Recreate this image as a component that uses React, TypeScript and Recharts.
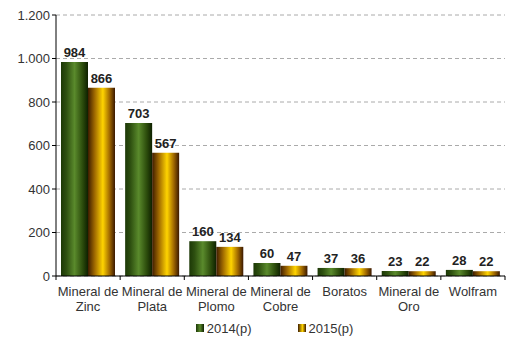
import { Bar, BarChart, CartesianGrid, LabelList, Legend, XAxis, YAxis } from "recharts";

const categories = ["Mineral de|Zinc", "Mineral de|Plata", "Mineral de|Plomo", "Mineral de|Cobre", "Boratos", "Mineral de|Oro", "Wolfram"];
const values2014 = [984, 703, 160, 60, 37, 23, 28];
const values2015 = [866, 567, 134, 47, 36, 22, 22];
const yTicks = [0, 200, 400, 600, 800, 1000, 1200];

const data = categories.map((name, i) => ({ name, y2014: values2014[i], y2015: values2015[i] }));

const W = 506;
const H = 339;
const margin = { top: 15, right: 1, left: 0, bottom: 0 };
const yAxisWidth = 56;
const band = (W - margin.left - margin.right - yAxisWidth) / categories.length;

const font = "'Liberation Sans', Arial, sans-serif";

function formatThousands(v: number): string {
  return v.toString().replace(/\B(?=(\d{3})+(?!\d))/g, ".");
}

function CategoryTick(props: any) {
  const { x, y, payload, index } = props;
  const lines = String(payload.value).split("|");
  const isLast = index === categories.length - 1;
  return (
    <g>
      <line x1={x - band / 2} x2={x - band / 2} y1={y - 8} y2={y - 4} stroke="#000" />
      {isLast && <line x1={x + band / 2} x2={x + band / 2} y1={y - 8} y2={y - 4} stroke="#000" />}
      <text x={x} y={y + 12} textAnchor="middle" fontSize={13} fill="#333" fontFamily={font}>
        {lines.map((l, i) => (
          <tspan key={i} x={x} dy={i === 0 ? 0 : 15}>
            {l}
          </tspan>
        ))}
      </text>
    </g>
  );
}

function LegendContent() {
  const items = [
    { label: "2014(p)", fill: "url(#legGreen)" },
    { label: "2015(p)", fill: "url(#legGold)" },
  ];
  return (
    <div style={{ display: "flex", justifyContent: "center", gap: 46, paddingLeft: 44, fontFamily: font, fontSize: 13, color: "#333", height: 16 }}>
      {items.map((it) => (
        <div key={it.label} style={{ display: "flex", alignItems: "center", gap: 3 }}>
          <svg width={8} height={8}>
            <rect width={8} height={8} fill={it.fill} />
          </svg>
          <span>{it.label}</span>
        </div>
      ))}
    </div>
  );
}

export default function App() {
  return (
    <div style={{ position: "absolute", left: 0, top: 0, background: "#fff" }}>
      <svg width={0} height={0} style={{ position: "absolute" }}>
        <defs>
          <linearGradient id="legGreen" x1="0" y1="0" x2="1" y2="0">
            <stop offset="0%" stopColor="#1c3806" />
            <stop offset="50%" stopColor="#5a8a2c" />
            <stop offset="100%" stopColor="#0e2000" />
          </linearGradient>
          <linearGradient id="legGold" x1="0" y1="0" x2="1" y2="0">
            <stop offset="0%" stopColor="#3e1c00" />
            <stop offset="55%" stopColor="#ffd400" />
            <stop offset="100%" stopColor="#3a1800" />
          </linearGradient>
        </defs>
      </svg>
      <BarChart width={W} height={H} data={data} margin={margin} barCategoryGap={5} barGap={0}>
        <defs>
          <linearGradient id="gGreen" x1="0" y1="0" x2="1" y2="0">
            <stop offset="0%" stopColor="#1c3806" />
            <stop offset="20%" stopColor="#2e5010" />
            <stop offset="50%" stopColor="#5a8a2c" />
            <stop offset="80%" stopColor="#2c4c0c" />
            <stop offset="100%" stopColor="#0e2000" />
          </linearGradient>
          <linearGradient id="gGold" x1="0" y1="0" x2="1" y2="0">
            <stop offset="0%" stopColor="#3e1c00" />
            <stop offset="25%" stopColor="#a06a00" />
            <stop offset="55%" stopColor="#ffd400" />
            <stop offset="80%" stopColor="#a06800" />
            <stop offset="100%" stopColor="#3a1800" />
          </linearGradient>
        </defs>
        <CartesianGrid vertical={false} stroke="#aaa" strokeDasharray="4 3" />
        <XAxis
          dataKey="name"
          height={47}
          stroke="#000"
          tickLine={false}
          interval={0}
          tick={<CategoryTick />}
        />
        <YAxis
          width={yAxisWidth}
          domain={[0, 1200]}
          ticks={yTicks}
          stroke="#000"
          tickSize={4}
          tickFormatter={formatThousands}
          tick={{ fontSize: 13, fill: "#333", fontFamily: font }}
        />
        <Legend verticalAlign="bottom" height={16} wrapperStyle={{ bottom: 3 }} content={<LegendContent />} />
        <Bar dataKey="y2014" name="2014(p)" fill="url(#gGreen)" isAnimationActive={false}>
          <LabelList dataKey="y2014" position="top" offset={5} style={{ fontSize: 13, fontWeight: "bold", fill: "#222", fontFamily: font }} />
        </Bar>
        <Bar dataKey="y2015" name="2015(p)" fill="url(#gGold)" isAnimationActive={false}>
          <LabelList dataKey="y2015" position="top" offset={5} style={{ fontSize: 13, fontWeight: "bold", fill: "#222", fontFamily: font }} />
        </Bar>
      </BarChart>
    </div>
  );
}
